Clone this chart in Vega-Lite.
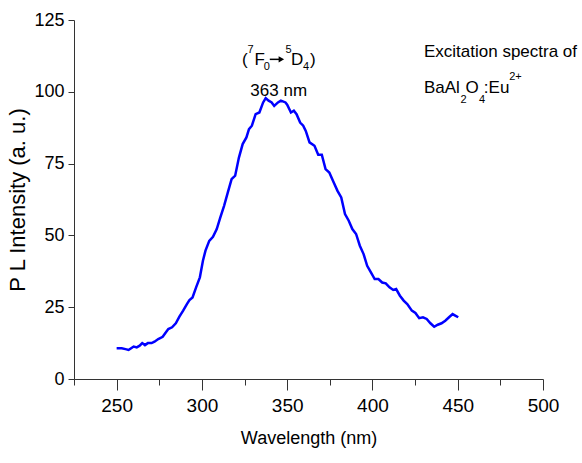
{
  "$schema": "https://vega.github.io/schema/vega-lite/v6.json",
  "autosize": {"type": "none"},
  "width": 469,
  "height": 359,
  "padding": {"left": 74, "top": 20, "right": 39, "bottom": 84},
  "background": "white",
  "config": {"view": {"stroke": null}},
  "datasets": {
    "spectrum": [
      {"nm": 250, "v": 10.7}, {"nm": 253, "v": 10.7}, {"nm": 255.2, "v": 10.4}, {"nm": 257, "v": 10.1},
      {"nm": 258.5, "v": 10.7}, {"nm": 260, "v": 11.3}, {"nm": 261.8, "v": 11.0}, {"nm": 263.5, "v": 11.6},
      {"nm": 265, "v": 12.5}, {"nm": 266.6, "v": 11.8}, {"nm": 268.3, "v": 12.5}, {"nm": 270.5, "v": 12.5},
      {"nm": 272.2, "v": 13.0}, {"nm": 274.4, "v": 13.9}, {"nm": 277, "v": 14.7}, {"nm": 278.8, "v": 16.2},
      {"nm": 280.3, "v": 17.4}, {"nm": 282.5, "v": 18.0}, {"nm": 284.7, "v": 19.4}, {"nm": 286.8, "v": 21.7},
      {"nm": 289, "v": 23.8}, {"nm": 291.2, "v": 26.1}, {"nm": 292.7, "v": 27.5}, {"nm": 294.5, "v": 28.4},
      {"nm": 296.6, "v": 31.9}, {"nm": 298.8, "v": 35.4}, {"nm": 300.6, "v": 41.2}, {"nm": 302.1, "v": 44.7},
      {"nm": 304.3, "v": 48.1}, {"nm": 306.5, "v": 49.5}, {"nm": 308.7, "v": 52.2}, {"nm": 310.8, "v": 56.3},
      {"nm": 313, "v": 60.3}, {"nm": 315.2, "v": 65.0}, {"nm": 317.4, "v": 69.6}, {"nm": 319.5, "v": 70.8},
      {"nm": 321.7, "v": 77.1}, {"nm": 323.9, "v": 81.8}, {"nm": 326.1, "v": 84.1}, {"nm": 327.6, "v": 87.0},
      {"nm": 329.3, "v": 88.2}, {"nm": 331.5, "v": 92.2}, {"nm": 333.7, "v": 92.8}, {"nm": 335.9, "v": 96.3},
      {"nm": 337.4, "v": 97.8}, {"nm": 339.1, "v": 96.9}, {"nm": 340.9, "v": 96.3}, {"nm": 342.4, "v": 95.1},
      {"nm": 344.6, "v": 96.3}, {"nm": 346.3, "v": 96.9}, {"nm": 349, "v": 96.3}, {"nm": 350, "v": 95.5},
      {"nm": 352.2, "v": 92.8}, {"nm": 353.9, "v": 93.4}, {"nm": 355.5, "v": 92.2}, {"nm": 357.6, "v": 89.3},
      {"nm": 359.4, "v": 88.2}, {"nm": 360.9, "v": 86.4}, {"nm": 363.1, "v": 82.4}, {"nm": 366, "v": 81.2},
      {"nm": 368.2, "v": 78.1}, {"nm": 370.3, "v": 78.1}, {"nm": 372.5, "v": 73.1}, {"nm": 374.7, "v": 71.9},
      {"nm": 377.3, "v": 68.4}, {"nm": 379.5, "v": 65.5}, {"nm": 381.7, "v": 63.2}, {"nm": 383.9, "v": 57.4},
      {"nm": 386.1, "v": 55.1}, {"nm": 388.2, "v": 52.2}, {"nm": 390.4, "v": 50.5}, {"nm": 392.6, "v": 46.4},
      {"nm": 394.8, "v": 43.5}, {"nm": 396.9, "v": 39.4}, {"nm": 399.1, "v": 37.1}, {"nm": 401.3, "v": 34.8},
      {"nm": 403.5, "v": 34.8}, {"nm": 405.7, "v": 33.6}, {"nm": 407.8, "v": 33.3}, {"nm": 410, "v": 31.9},
      {"nm": 412.2, "v": 31.0}, {"nm": 413.9, "v": 31.3}, {"nm": 416.1, "v": 29.0}, {"nm": 418.3, "v": 27.3},
      {"nm": 420.4, "v": 26.1}, {"nm": 423.1, "v": 23.8}, {"nm": 425.2, "v": 23.0}, {"nm": 427.4, "v": 21.2},
      {"nm": 429.6, "v": 21.5}, {"nm": 431.8, "v": 20.9}, {"nm": 434, "v": 19.4}, {"nm": 436.2, "v": 18.2},
      {"nm": 438.3, "v": 18.9}, {"nm": 440.5, "v": 19.4}, {"nm": 442.7, "v": 20.3}, {"nm": 444.9, "v": 21.5},
      {"nm": 447, "v": 22.6}, {"nm": 448.8, "v": 22.0}, {"nm": 450.3, "v": 21.5}
    ],
    "mainText": [
      {"nm": 430.2, "v": 112.2, "t": "Excitation spectra of"},
      {"nm": 430.2, "v": 99.7, "t": "BaAl"},
      {"nm": 454.6, "v": 99.7, "t": "O"},
      {"nm": 465.3, "v": 99.7, "t": ":Eu"},
      {"nm": 323.5, "v": 109.3, "t": "("},
      {"nm": 330.8, "v": 109.3, "t": "F"},
      {"nm": 352.2, "v": 109.3, "t": "D"},
      {"nm": 363.4, "v": 109.3, "t": ")"},
      {"nm": 328.4, "v": 98.5, "t": "363 nm"}
    ],
    "subText": [
      {"nm": 451.6, "v": 96.1, "t": "2"},
      {"nm": 462.5, "v": 96.1, "t": "4"},
      {"nm": 480.2, "v": 104.1, "t": "2+"},
      {"nm": 326.8, "v": 113.4, "t": "7"},
      {"nm": 336.2, "v": 107.6, "t": "0"},
      {"nm": 349.0, "v": 113.4, "t": "5"},
      {"nm": 359.3, "v": 107.6, "t": "4"}
    ],
    "arrow": [{"nm": 339.8, "nm2": 346.6, "v": 111.3}],
    "arrowHead": [{"nm": 346.6, "v": 111.3}]
  },
  "layer": [
    {
      "data": {"name": "spectrum"},
      "mark": {"type": "line", "color": "#0000ff", "strokeWidth": 2.5, "interpolate": "linear"},
      "encoding": {
        "x": {
          "field": "nm", "type": "quantitative",
          "scale": {"domain": [225, 500], "nice": false, "zero": false},
          "axis": {
            "title": "Wavelength (nm)",
            "values": [225, 250, 275, 300, 325, 350, 375, 400, 425, 450, 475, 500],
            "labelExpr": "datum.value % 50 == 0 ? datum.label : ''",
            "grid": false,
            "domainColor": "#333333",
            "tickColor": "#333333",
            "tickSize": {"condition": {"test": "datum.value % 50 != 0", "value": 6}, "value": 11},
            "labelFont": "Liberation Sans",
            "labelFontSize": 19,
            "labelColor": "#000000",
            "labelPadding": 6,
            "labelFlush": false,
            "titleFont": "Liberation Sans",
            "titleFontSize": 18,
            "titleFontWeight": "normal",
            "titleColor": "#000000",
            "titlePadding": 14
          }
        },
        "y": {
          "field": "v", "type": "quantitative",
          "scale": {"domain": [0, 125], "nice": false},
          "axis": {
            "title": "P L Intensity (a. u.)",
            "values": [0, 12.5, 25, 37.5, 50, 62.5, 75, 87.5, 100, 112.5, 125],
            "labelExpr": "datum.value % 25 == 0 ? datum.label : ''",
            "grid": false,
            "domainColor": "#333333",
            "tickColor": "#333333",
            "tickSize": {"condition": {"test": "datum.value % 25 != 0", "value": 3}, "value": 6},
            "labelFont": "Liberation Sans",
            "labelFontSize": 18,
            "labelColor": "#000000",
            "labelPadding": 4,
            "labelFlush": false,
            "titleFont": "Liberation Sans",
            "titleFontSize": 22,
            "titleFontWeight": "normal",
            "titleColor": "#000000",
            "titlePadding": 4
          }
        }
      }
    },
    {
      "data": {"name": "mainText"},
      "mark": {"type": "text", "font": "Liberation Sans", "fontSize": 17, "align": "left", "baseline": "alphabetic", "color": "#000000"},
      "encoding": {
        "x": {"field": "nm", "type": "quantitative"},
        "y": {"field": "v", "type": "quantitative"},
        "text": {"field": "t"}
      }
    },
    {
      "data": {"name": "subText"},
      "mark": {"type": "text", "font": "Liberation Sans", "fontSize": 11, "align": "left", "baseline": "alphabetic", "color": "#000000"},
      "encoding": {
        "x": {"field": "nm", "type": "quantitative"},
        "y": {"field": "v", "type": "quantitative"},
        "text": {"field": "t"}
      }
    },
    {
      "data": {"name": "arrow"},
      "mark": {"type": "rule", "color": "#000000", "strokeWidth": 1.5},
      "encoding": {
        "x": {"field": "nm", "type": "quantitative"},
        "x2": {"field": "nm2"},
        "y": {"field": "v", "type": "quantitative"}
      }
    },
    {
      "data": {"name": "arrowHead"},
      "mark": {"type": "point", "shape": "triangle-right", "filled": true, "color": "#000000", "size": 40, "opacity": 1},
      "encoding": {
        "x": {"field": "nm", "type": "quantitative"},
        "y": {"field": "v", "type": "quantitative"}
      }
    }
  ]
}
